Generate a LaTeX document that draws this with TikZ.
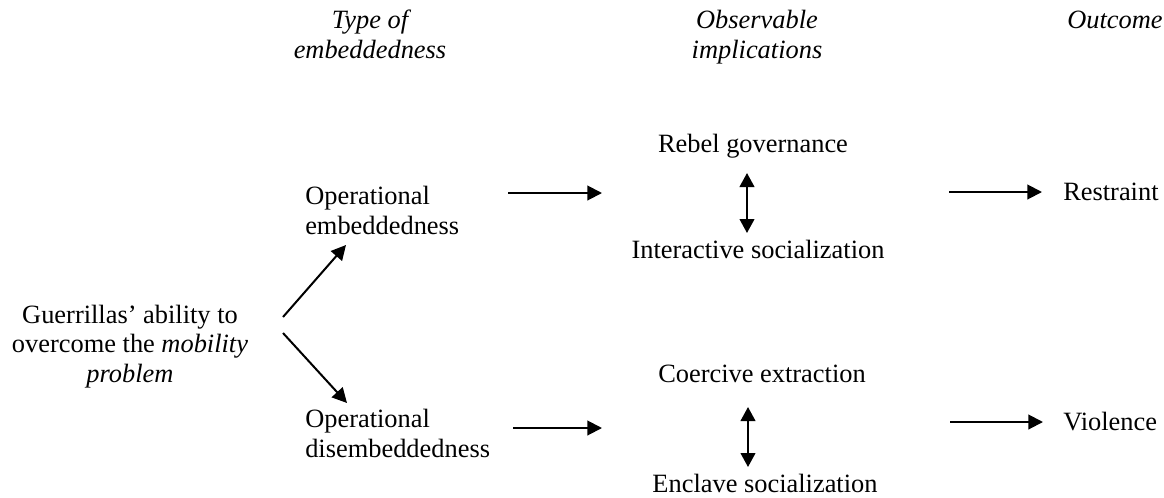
\documentclass[tikz,border=0pt]{standalone}
\usepackage{fontspec}
\setmainfont{Liberation Serif}
\usetikzlibrary{arrows.meta}

\tikzset{
  lbl/.style={inner sep=0pt, anchor=base, font=\fontsize{19.8pt}{22pt}\selectfont},
  hdr/.style={lbl, align=center, font=\fontsize{19.8pt}{22.5pt}\selectfont\itshape},
  arr/.style={line width=1.5pt, -{Triangle[length=11pt,width=11pt]}},
  dblarr/.style={line width=1.5pt, {Triangle[length=10.5pt,width=11pt]}-{Triangle[length=10.5pt,width=11pt]}},
}

\begin{document}
\begin{tikzpicture}[x=0.75pt,y=0.75pt,yscale=-1,xscale=1]
\path[use as bounding box] (0,0) rectangle (1164,497);

% Text Node
\node[hdr] (typehd) at (370,58) {Type of\\embeddedness};
% Text Node
\node[hdr] (obshd) at (757,58) {Observable\\implications};
% Text Node
\node[hdr] (outhd) at (1115,28) {Outcome};
% Text Node
\node[lbl, align=center] (guer) at (130,382) {Guerrillas' ability to\\overcome the \textit{mobility}\\\textit{problem}};
% Text Node
\node[lbl, anchor=base west, align=left] (opemb) at (305,234) {Operational\\embeddedness};
% Text Node
\node[lbl, anchor=base west, align=left] (opdis) at (305,457) {Operational\\disembeddedness};
% Text Node
\node[lbl] (rebgov) at (753,152) {Rebel governance};
% Text Node
\node[lbl] (intsoc) at (758,258) {Interactive socialization};
% Text Node
\node[lbl] (coerex) at (762,382) {Coercive extraction};
% Text Node
\node[lbl] (enclsoc) at (765,492) {Enclave socialization};
% Text Node
\node[lbl, anchor=base west] (restr) at (1063,200) {Restraint};
% Text Node
\node[lbl, anchor=base west] (viol) at (1063,430) {Violence};

% arrow ends
\coordinate (guerup) at (283,317);
\coordinate (guerdn) at (283,333);
\coordinate (embtip) at (346,245);
\coordinate (distip) at (347,403);
\coordinate (embout) at (508,193);
\coordinate (embin) at (602,193);
\coordinate (disout) at (513,428);
\coordinate (disin) at (602,428);
\coordinate (rebbot) at (747,173);
\coordinate (inttop) at (747,233);
\coordinate (coebot) at (748,407);
\coordinate (enctop) at (748,467);
\coordinate (resout) at (949,192);
\coordinate (resin) at (1042,192);
\coordinate (vioout) at (950,422);
\coordinate (vioin) at (1043,422);

%Straight Lines
\draw[arr] (guerup) -- (embtip);
\draw[arr] (guerdn) -- (distip);
%Straight Lines
\draw[arr] (embout) -- (embin);
\draw[arr] (disout) -- (disin);
%Straight Lines
\draw[dblarr] (rebbot) -- (inttop);
\draw[dblarr] (coebot) -- (enctop);
%Straight Lines
\draw[arr] (resout) -- (resin);
\draw[arr] (vioout) -- (vioin);

\end{tikzpicture}
\end{document}
